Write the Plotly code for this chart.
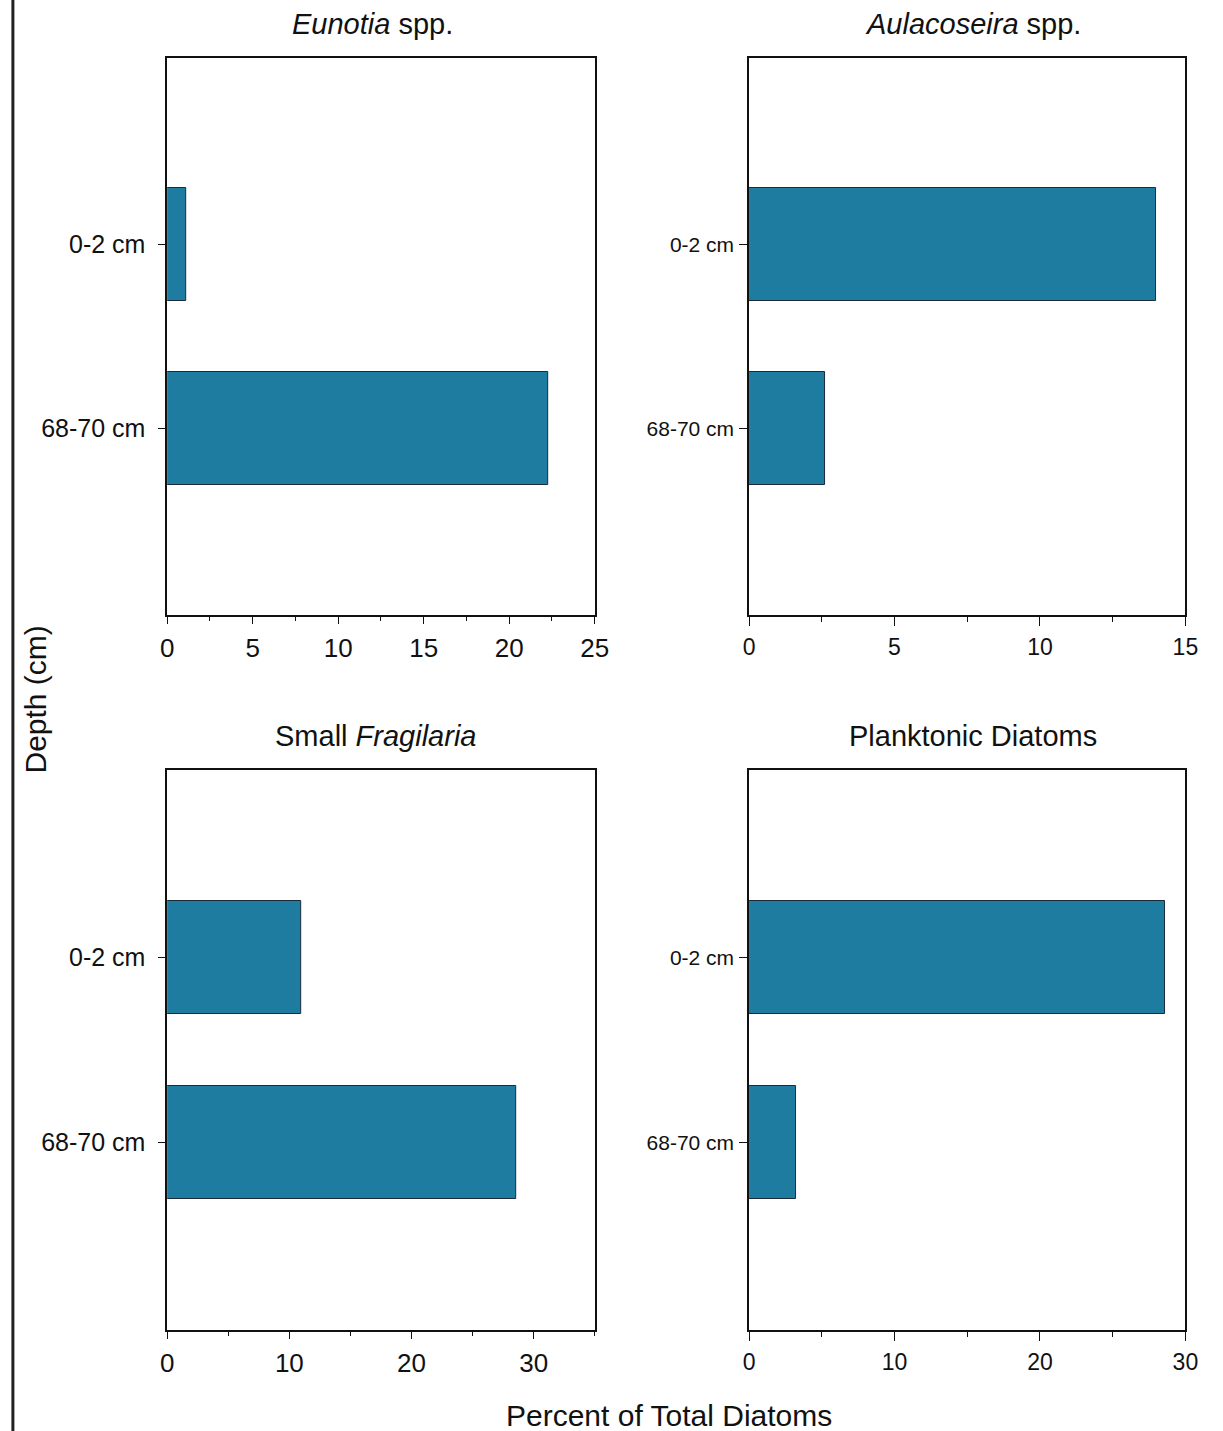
import plotly.graph_objects as go

W, H = 1223, 1431

depths = ["0-2 cm", "68-70 cm"]
eunotia = [1.1, 22.3]
aulacoseira = [14.0, 2.6]
small_fragilaria = [11.0, 28.6]
planktonic = [28.6, 3.2]

titles = ["<i>Eunotia</i> spp.", "<i>Aulacoseira</i> spp.",
          "Small <i>Fragilaria</i>", "Planktonic Diatoms"]
title_x = [372, 983, 375, 983]
series = [eunotia, aulacoseira, small_fragilaria, planktonic]
xranges = [[0, 25], [0, 15], [0, 35], [0, 30]]
dticks = [5, 5, 10, 10]
minor_d = [2.5, 2.5, 5, 5]

# pixel boxes (left, right, top, bottom)
boxes = [(163, 598, 58, 615), (755, 1199, 58, 615),
         (163, 598, 770, 1330), (755, 1199, 770, 1330)]

BAR = "#1e7ca0"
FONT = "Liberation Sans, Arial, sans-serif"
NARROW = "Liberation Sans Narrow, Liberation Sans, Arial, sans-serif"

fig = go.Figure()
annotations = []
for i, (vals, box) in enumerate(zip(series, boxes)):
    n = "" if i == 0 else str(i + 1)
    fig.add_trace(go.Bar(
        x=vals, y=depths, orientation="h", width=0.61,
        marker=dict(color=BAR, line=dict(color="#1a2a3a", width=1)),
        xaxis="x" + n, yaxis="y" + n, showlegend=False))
    l, r, t, b = box
    left = i % 2 == 0
    xfont = dict(family=FONT if left else NARROW, size=26 if left else 23, color="#111")
    yfont = dict(family=FONT if left else NARROW, size=25 if left else 21, color="#111")
    fig.layout["xaxis" + n] = dict(
        domain=[l / W, r / W], anchor="y" + n, range=xranges[i],
        tickmode="linear", tick0=0, dtick=dticks[i],
        ticks="outside", ticklen=7 if left else 9, tickwidth=1.3, tickcolor="#111",
        minor=dict(ticks="outside", ticklen=4 if left else 5, tickwidth=1.2,
                   tickcolor="#111", dtick=minor_d[i], tick0=0, showgrid=False),
        showline=True, linecolor="#111", linewidth=1.5, mirror=True,
        showgrid=False, zeroline=False, tickfont=xfont, fixedrange=True,
        ticklabelstandoff=2)
    fig.layout["yaxis" + n] = dict(
        domain=[1 - b / H, 1 - t / H], anchor="x" + n, type="category",
        categoryorder="array", categoryarray=depths, range=[2.01, -1.01],
        ticks="outside", ticklen=7 if left else 8, tickwidth=1.3, tickcolor="#111",
        showline=True, linecolor="#111", linewidth=1.5, mirror=True,
        showgrid=False, zeroline=False, tickfont=yfont, fixedrange=True,
        ticklabelstandoff=8 if left else 1)
    annotations.append(dict(
        text=titles[i], x=title_x[i] / W, y=1 - (t - 34) / H,
        xref="paper", yref="paper", xanchor="center", yanchor="middle",
        showarrow=False, font=dict(family=FONT, size=29, color="#111")))

annotations.append(dict(
    text="Depth (cm)", x=28 / W, y=1 - 700 / H, xref="paper", yref="paper",
    textangle=-90, showarrow=False, xanchor="center", yanchor="middle",
    font=dict(family=FONT, size=30, color="#111")))
annotations.append(dict(
    text="Percent of Total Diatoms", x=674 / W, y=1 - 1415 / H,
    xref="paper", yref="paper", showarrow=False, xanchor="center", yanchor="middle",
    font=dict(family=FONT, size=30, color="#111")))

fig.update_layout(
    width=W, height=H, margin=dict(l=0, r=0, t=0, b=0),
    paper_bgcolor="white", plot_bgcolor="white",
    annotations=annotations, bargap=0,
    shapes=[dict(type="line", xref="paper", yref="paper",
                 x0=6 / W, x1=6 / W, y0=0, y1=1,
                 line=dict(color="#222", width=3))])

fig.write_html(
    "out.html",
    config={"displayModeBar": False},
    post_script="document.body.style.margin='0';document.body.style.padding='0';"
                "document.body.style.overflow='hidden';"
                "document.documentElement.style.overflow='hidden';")
